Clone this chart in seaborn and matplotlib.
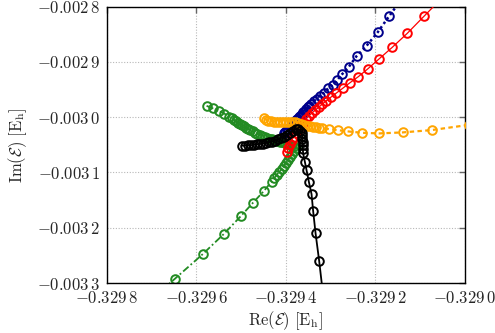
import matplotlib
matplotlib.use("Agg")
import matplotlib.pyplot as plt
import seaborn as sns

# ---------------- data (Re, Im of energy in Hartree) ----------------
green_re = [-0.3295772, -0.3295631, -0.3295497, -0.3295374, -0.3295263, -0.3295213,
            -0.3295162, -0.3295117, -0.3295073, -0.3295028, -0.3294983, -0.3294939,
            -0.3294894, -0.3294849, -0.3294793, -0.3294744, -0.3294693, -0.3294637,
            -0.3294581, -0.3294525, -0.3294469, -0.3294413, -0.3294358, -0.3294302,
            -0.3294246, -0.3294190, -0.3294134, -0.3294078, -0.3294022, -0.3293967,
            -0.3293911, -0.3293866, -0.3293821, -0.3293777,
            -0.3293821, -0.3293866, -0.3293911, -0.3293955, -0.3294000, -0.3294045,
            -0.3294089, -0.3294145, -0.3294201, -0.3294257, -0.3294320, -0.3294492,
            -0.3294731, -0.3295012, -0.3295381, -0.3295861, -0.3296480, -0.3297196]
green_im = [-0.0029794, -0.0029841, -0.0029890, -0.0029935, -0.0029989, -0.0030016,
            -0.0030043, -0.0030071, -0.0030098, -0.0030121, -0.0030143, -0.0030166,
            -0.0030188, -0.0030212, -0.0030233, -0.0030257, -0.0030278, -0.0030297,
            -0.0030315, -0.0030333, -0.0030351, -0.0030369, -0.0030387, -0.0030401,
            -0.0030414, -0.0030429, -0.0030441, -0.0030456, -0.0030468, -0.0030483,
            -0.0030495, -0.0030510, -0.0030523, -0.0030550,
            -0.0030604, -0.0030658, -0.0030712, -0.0030767, -0.0030821, -0.0030875,
            -0.0030929, -0.0030984, -0.0031038, -0.0031101, -0.0031164, -0.0031336,
            -0.0031544, -0.0031794, -0.0032108, -0.0032479, -0.0032922, -0.0033434]

blue_re = [-0.3294045, -0.3294012, -0.3293978, -0.3293945, -0.3293911, -0.3293878,
           -0.3293844, -0.3293811, -0.3293777, -0.3293744, -0.3293710, -0.3293677,
           -0.3293643, -0.3293609, -0.3293575, -0.3293542, -0.3293508, -0.3293475,
           -0.3293441, -0.3293374, -0.3293307, -0.3293240, -0.3293151, -0.3293055,
           -0.3292956, -0.3292854, -0.3292742, -0.3292592, -0.3292420, -0.3292197,
           -0.3291951, -0.3291692, -0.3291430]
blue_im = [-0.0030288, -0.0030261, -0.0030233, -0.0030206, -0.0030179, -0.0030152,
           -0.0030125, -0.0030089, -0.0030052, -0.0030025, -0.0029998, -0.0029971,
           -0.0029944, -0.0029913, -0.0029881, -0.0029849, -0.0029817, -0.0029790,
           -0.0029763, -0.0029709, -0.0029664, -0.0029609, -0.0029559, -0.0029479,
           -0.0029420, -0.0029329, -0.0029221, -0.0029089, -0.0028895, -0.0028709,
           -0.0028467, -0.0028172, -0.0027882]

red_re = [-0.3293967, -0.3293955, -0.3293911, -0.3293866, -0.3293821, -0.3293777,
          -0.3293732, -0.3293676, -0.3293620, -0.3293553, -0.3293486, -0.3293419,
          -0.3293341, -0.3293263, -0.3293184, -0.3293106, -0.3293001, -0.3292883,
          -0.3292733, -0.3292570, -0.3292384, -0.3292168, -0.3291922, -0.3291625,
          -0.3291289, -0.3290910, -0.3290514]
red_im = [-0.0030622, -0.0030559, -0.0030486, -0.0030414, -0.0030351, -0.0030288,
          -0.0030224, -0.0030161, -0.0030098, -0.0030034, -0.0029980, -0.0029926,
          -0.0029872, -0.0029817, -0.0029763, -0.0029709, -0.0029642, -0.0029570,
          -0.0029479, -0.0029378, -0.0029269, -0.0029125, -0.0028949, -0.0028738,
          -0.0028485, -0.0028172, -0.0027846]

orange_re = [-0.3294492, -0.3294447, -0.3294402, -0.3294335, -0.3294268, -0.3294201,
             -0.3294134, -0.3294067, -0.3294000, -0.3293933, -0.3293866, -0.3293799,
             -0.3293732, -0.3293665, -0.3293598, -0.3293531, -0.3293464, -0.3293397,
             -0.3293330, -0.3293263, -0.3293189, -0.3293032, -0.3292845, -0.3292608,
             -0.3292295, -0.3291915, -0.3291392, -0.3290744, -0.3289911]
orange_im = [-0.0030016, -0.0030043, -0.0030061, -0.0030071, -0.0030080, -0.0030080,
             -0.0030080, -0.0030080, -0.0030080, -0.0030080, -0.0030080, -0.0030089,
             -0.0030098, -0.0030116, -0.0030134, -0.0030152, -0.0030161, -0.0030170,
             -0.0030179, -0.0030188, -0.0030192, -0.0030215, -0.0030233, -0.0030257,
             -0.0030282, -0.0030293, -0.0030275, -0.0030233, -0.0030139]

black_re = [-0.3294983, -0.3294916, -0.3294849, -0.3294782, -0.3294715, -0.3294648,
            -0.3294581, -0.3294514, -0.3294447, -0.3294380, -0.3294313, -0.3294246,
            -0.3294179, -0.3294112, -0.3294045, -0.3293978, -0.3293911, -0.3293844,
            -0.3293777, -0.3293721, -0.3293676, -0.3293643, -0.3293636, -0.3293631,
            -0.3293627, -0.3293625, -0.3293620, -0.3293614, -0.3293575, -0.3293538,
            -0.3293486, -0.3293426, -0.3293390, -0.3293336, -0.3293256, -0.3293173]
black_im = [-0.0030514, -0.0030514, -0.0030510, -0.0030505, -0.0030499, -0.0030492,
            -0.0030486, -0.0030477, -0.0030468, -0.0030456, -0.0030441, -0.0030423,
            -0.0030401, -0.0030378, -0.0030351, -0.0030315, -0.0030278, -0.0030242,
            -0.0030215, -0.0030215, -0.0030242, -0.0030288, -0.0030342, -0.0030396,
            -0.0030450, -0.0030505, -0.0030577, -0.0030655, -0.0030807, -0.0030957,
            -0.0031168, -0.0031391, -0.0031698, -0.0032101, -0.0032597, -0.0033181]

x_ticks = [-0.3298, -0.3296, -0.3294, -0.3292, -0.3290]
x_ticklabels = [r"$-0.329\,8$", r"$-0.329\,6$", r"$-0.329\,4$", r"$-0.329\,2$", r"$-0.329\,0$"]
y_ticks = [-0.0033, -0.0032, -0.0031, -0.0030, -0.0029, -0.0028]
y_ticklabels = [r"$-0.003\,3$", r"$-0.003\,2$", r"$-0.003\,1$", r"$-0.003\,0$",
                r"$-0.002\,9$", r"$-0.002\,8$"]
x_label = r"$\mathrm{Re}(\mathcal{E})\ [\mathrm{E_h}]$"
y_label = r"$\mathrm{Im}(\mathcal{E})\ [\mathrm{E_h}]$"

# ---------------- plotting ----------------
sns.set_style("white")
plt.rcParams["mathtext.fontset"] = "cm"
plt.rcParams["font.family"] = ["DejaVu Serif"]

fig = plt.figure(figsize=(4.95, 3.33), dpi=100)
ax = fig.add_axes([0.216, 0.150, 0.723, 0.830])

series = [
    (green_re, green_im, "#228B22", (0, (4, 1.5, 1, 1.5)), 1.3, 1),
    (blue_re, blue_im, "#00008B", (0, (1, 1.2)), 1.8, 2),
    (red_re, red_im, "#FF0000", "-", 0.9, 3),
    (orange_re, orange_im, "#FFA500", (0, (2, 1.5)), 1.6, 4),
    (black_re, black_im, "#000000", "-", 1.3, 5),
]
for xs, ys, col, ls, lw, z in series:
    sns.lineplot(x=xs, y=ys, ax=ax, sort=False, estimator=None, color=col,
                 linestyle=ls, linewidth=lw, marker="o", markersize=6.2,
                 markerfacecolor="none", markeredgecolor=col,
                 markeredgewidth=1.4, zorder=z)

ax.set_xlim(-0.3298, -0.3290)
ax.set_ylim(-0.0033, -0.0028)
ax.set_xticks(x_ticks)
ax.set_xticklabels(x_ticklabels)
ax.set_yticks(y_ticks)
ax.set_yticklabels(y_ticklabels)
ax.tick_params(direction="in", length=4, width=1.0, color="#666666",
               top=True, right=True, labelsize=12, pad=5)
ax.grid(True, linestyle=(0, (1, 1.5)), color="#b8b8b8", linewidth=0.8, zorder=0)
ax.set_axisbelow(True)
for s in ax.spines.values():
    s.set_color("black")
    s.set_linewidth(1.0)
ax.set_xlabel(x_label, fontsize=12, labelpad=2)
ax.set_ylabel(y_label, fontsize=12, labelpad=6)

fig.savefig("out.png", dpi=100)
